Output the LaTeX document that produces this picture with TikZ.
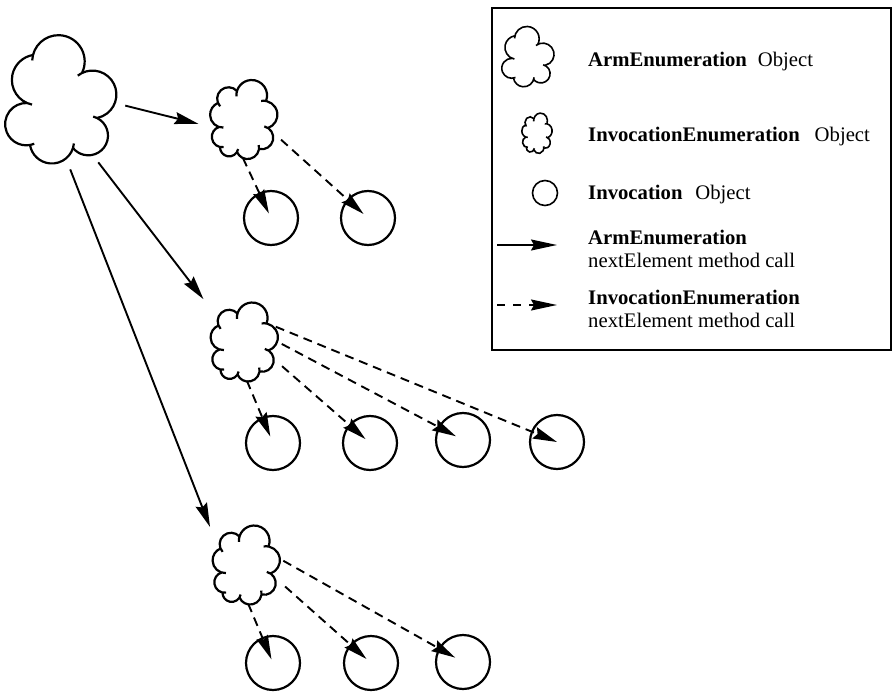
\documentclass[tikz,border=0pt]{standalone}
\usepackage{fontspec}
\setmainfont{Liberation Serif}
\usetikzlibrary{arrows.meta,shapes.geometric}

% Puff lists: start x/y, end x/y (relative to the cloud centre), central angle of the arc
\def\bigpuffs{-29/43/20/25/192, 20/25/35/-20/195, 35/-20/11/-50/205, 11/-50/-32/-47/153, -32/-47/-35/-5/192, -35/-5/-29/43/147}
\def\smallpuffs{-27/16/-8/28/160, -8/28/21/18/185, 21/18/23/-9/150, 23/-9/14/-30/160, 14/-30/-8/-33/150, -8/-33/-25/-28/150, -25/-28/-26/-8/150, -26/-8/-27/16/140}

% #1 scope options, #2 hook angle, #3 puff list
\newcommand\cloudoutline[3]{%
  \begin{scope}[#1]
    \foreach \ax/\ay/\bx/\by/\al in #3 {
      \pgfmathsetmacro\pL{veclen(\bx-\ax,\by-\ay)}
      \pgfmathsetmacro\pB{atan2(\by-\ay,\bx-\ax)}
      \pgfmathsetmacro\pR{\pL/(2*sin(\al/2))}
      \pgfmathsetmacro\pS{\pB+90+\al/2}
      \pgfmathsetmacro\pX{\ax-\pR*cos(\pS)+\pR*cos(\pS+#2)}
      \pgfmathsetmacro\pY{\ay-\pR*sin(\pS)+\pR*sin(\pS+#2)}
      \draw (\pX,\pY) arc[start angle=\pS+#2, delta angle=-\al-#2, radius=\pR];
    }
  \end{scope}}

\tikzset{
  x=1pt, y=1pt,
  cloud area/.style={ellipse, inner sep=0pt},
  invobj/.style={circle, draw, line width=2.2pt, minimum size=54pt, inner sep=0pt},
  armcall/.style={line width=1.9pt, -{Stealth[length=24pt, width=12pt, inset=3pt]}},
  invcall/.style={armcall, dash pattern=on 9pt off 6pt},
  legtext/.style={anchor=base west, inner sep=0pt, font=\fontsize{20.7}{23}\selectfont},
}

\begin{document}
\begin{tikzpicture}
\useasboundingbox (0,0) rectangle (893,-692);

% ---- cloud objects ----
\cloudoutline{shift={(62,-98)}, line width=2.2pt}{12}{\bigpuffs}
\cloudoutline{shift={(245,-119)}, line width=2.2pt}{20}{\smallpuffs}
\cloudoutline{shift={(245.5,-341.5)}, line width=2.2pt}{20}{\smallpuffs}
\cloudoutline{shift={(247.5,-564.5)}, line width=2.2pt}{20}{\smallpuffs}

\node[cloud area, minimum width=113pt, minimum height=130pt] (c0) at (62,-98) {};
\node[cloud area, minimum width=65pt, minimum height=78pt] (c1) at (245,-119) {};
\node[cloud area, minimum width=65pt, minimum height=78pt] (c2) at (245.5,-341.5) {};
\node[cloud area, minimum width=65pt, minimum height=78pt] (c3) at (247.5,-564.5) {};

% ---- invocation objects ----
\node[invobj] (p11) at (271,-218) {};
\node[invobj] (p12) at (368,-218) {};
\node[invobj] (p21) at (273,-443) {};
\node[invobj] (p22) at (370,-443) {};
\node[invobj] (p23) at (463,-440) {};
\node[invobj] (p24) at (557,-442) {};
\node[invobj] (p31) at (273,-663) {};
\node[invobj] (p32) at (371,-663) {};
\node[invobj] (p33) at (463,-662) {};

% ---- ArmEnumeration nextElement calls ----
\draw[armcall, shorten <=7pt, shorten >=15pt] (c0.-6) -- (c1.195);
\draw[armcall, shorten <=11pt, shorten >=25pt] (c0.-62) -- (c2.140);
\draw[armcall, shorten <=7pt, shorten >=22pt] (c0.-85) -- (c3.150);

% ---- InvocationEnumeration nextElement calls ----
\draw[invcall, shorten >=5pt] (c1.-93) -- (p11.center);
\draw[invcall, shorten <=8pt, shorten >=6pt] (c1.-27) -- (p12.center);

\draw[invcall, shorten >=7pt] (c2.-88) -- (p21.center);
\draw[invcall, shorten <=10pt, shorten >=6pt] (c2.-32) -- (p22.center);
\draw[invcall, shorten <=4pt, shorten >=8pt] (c2.-1) -- (p23.center);
\draw[invcall] (c2.26) -- (p24.center);

\draw[invcall, shorten >=4pt] (c3.-89) -- (p31.center);
\draw[invcall, shorten <=10pt, shorten >=6pt] (c3.-27) -- (p32.center);
\draw[invcall, shorten <=4pt, shorten >=9pt] (c3.10) -- (p33.center);

% ---- legend ----
\draw[line width=1.6pt] (492,-8) rectangle (891,-350);

\cloudoutline{shift={(528.5,-56)}, scale=0.47, line width=1.6pt}{12}{\bigpuffs}
\cloudoutline{shift={(537.5,-133)}, xscale=0.45, yscale=0.51, line width=1.6pt}{20}{\smallpuffs}
\node[circle, draw, line width=1.6pt, minimum size=25pt, inner sep=0pt] (lgc) at (545,-193) {};

\coordinate (la1) at (497,-245);
\coordinate (la2) at (557,-245);
\coordinate (lb1) at (497,-305);
\coordinate (lb2) at (557,-305);
\draw[line width=1.6pt, -{Stealth[length=26pt, width=11pt, inset=3pt]}] (la1) -- (la2);
\draw[line width=1.6pt, dash pattern=on 8pt off 8pt, -{Stealth[length=26pt, width=11pt, inset=3pt]}] (lb1) -- (lb2);

\node[legtext] (t1) at (588,-67) {\textbf{ArmEnumeration}\hspace{0.53em}Object};
\node[legtext] (t2) at (588,-142) {\textbf{InvocationEnumeration}\hspace{0.72em}Object};
\node[legtext] (t3) at (588,-200) {\textbf{Invocation}\hspace{0.62em}Object};
\node[legtext] (t4a) at (588,-245) {\textbf{ArmEnumeration}};
\node[legtext] (t4b) at (588,-268) {nextElement method call};
\node[legtext] (t5a) at (588,-305) {\textbf{InvocationEnumeration}};
\node[legtext] (t5b) at (588,-327) {nextElement method call};
\end{tikzpicture}
\end{document}
